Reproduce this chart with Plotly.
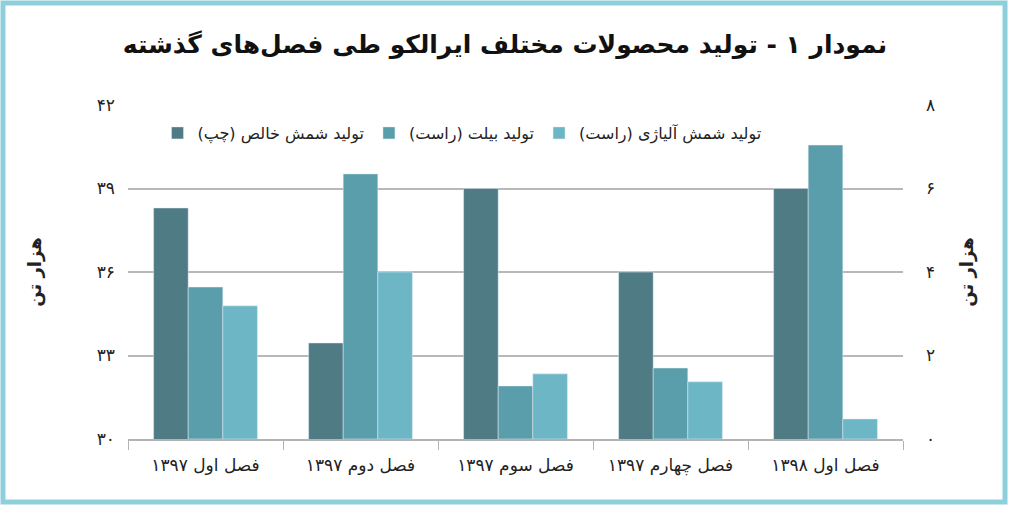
import plotly.graph_objects as go

# data
seasons = ["فصل اول ۱۳۹۷", "فصل دوم ۱۳۹۷", "فصل سوم ۱۳۹۷", "فصل چهارم ۱۳۹۷", "فصل اول ۱۳۹۸"]
pure_ingot = [38.3, 33.45, 39.0, 36.0, 39.0]      # left axis
billet = [3.64, 6.35, 1.27, 1.7, 7.04]            # right axis
alloy_ingot = [3.19, 4.0, 1.56, 1.37, 0.48]       # right axis

left_ticks = [30, 33, 36, 39, 42]
left_ticktext = ["۳۰", "۳۳", "۳۶", "۳۹", "۴۲"]
right_ticks = [0, 2, 4, 6, 8]
right_ticktext = ["۰", "۲", "۴", "۶", "۸"]

W, H = 1010, 506
L, R, T, B = 128, 107, 105, 67
FONT = "DejaVu Sans"


def paper_x(px):
    return (px - L) / (W - L - R)


def paper_y(py):
    return (H - B - py) / (H - T - B)


fig = go.Figure()
fig.add_trace(go.Bar(x=seasons, y=pure_ingot, name="تولید شمش خالص (چپ)",
                     marker_color="#4f7b85", offsetgroup="1", yaxis="y"))
fig.add_trace(go.Bar(x=seasons, y=billet, name="تولید بیلت (راست)",
                     marker_color="#5a9dab", offsetgroup="2", yaxis="y2"))
fig.add_trace(go.Bar(x=seasons, y=alloy_ingot, name="تولید شمش آلیاژی (راست)",
                     marker_color="#6cb6c6", offsetgroup="3", yaxis="y2"))

fig.update_layout(
    width=W, height=H,
    margin=dict(l=L, r=R, t=T, b=B),
    paper_bgcolor="white", plot_bgcolor="white",
    font=dict(family=FONT, color="#222"),
    barmode="group", bargap=0.33, bargroupgap=0,
    title=dict(text="<b>نمودار ۱ - تولید محصولات مختلف ایرالکو طی فصل‌های گذشته</b>",
               x=0.5, xanchor="center", y=(H - 44) / H, yanchor="middle",
               font=dict(size=25, color="#111")),
    xaxis=dict(showgrid=False, showline=True, linecolor="#b3b3b3", linewidth=1.5,
               ticks="outside", tickson="boundaries", ticklen=9, tickcolor="#b3b3b3",
               ticklabelstandoff=10, tickfont=dict(size=17, color="#222")),
    yaxis=dict(range=[30, 42], tickvals=left_ticks, ticktext=left_ticktext,
               showgrid=True, gridcolor="#b8b8b8", gridwidth=1.5, zeroline=False,
               ticks="", ticklabelstandoff=12, tickfont=dict(size=17, color="#222"),
               title=dict(text="<b>هزار تن</b>", font=dict(size=18), standoff=50)),
    yaxis2=dict(range=[0, 8], tickvals=right_ticks, ticktext=right_ticktext,
                overlaying="y", side="right", showgrid=False, zeroline=False,
                ticks="", ticklabelstandoff=22, tickfont=dict(size=17, color="#222"),
                title=dict(text="<b>هزار تن</b>", font=dict(size=18), standoff=26)),
    legend=dict(orientation="h", x=paper_x(462), xanchor="center", y=paper_y(133), yanchor="middle",
                font=dict(size=16, color="#222"), bgcolor="rgba(0,0,0,0)",
                traceorder="normal", itemwidth=30),
    showlegend=True,
)

# light blue frame around the picture
fig.add_shape(type="rect", xref="paper", yref="paper",
              x0=paper_x(3), x1=paper_x(1005), y0=paper_y(502), y1=paper_y(3),
              line=dict(color="#8dd0dc", width=5), fillcolor="rgba(0,0,0,0)", layer="below")

fig.write_html("out.html", config={"displayModeBar": False},
               post_script="document.body.style.margin='0';")
